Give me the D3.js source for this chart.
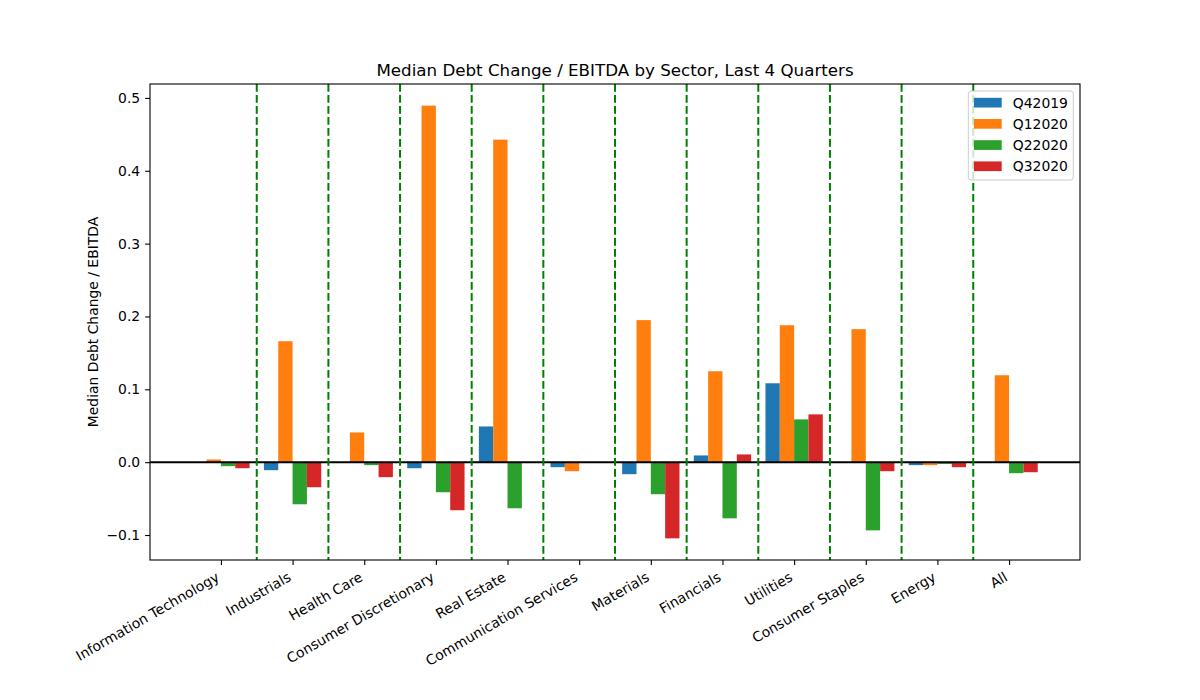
<!DOCTYPE html>
<html>
<head>
<meta charset="utf-8">
<script src="https://cdn.jsdelivr.net/npm/d3@7"></script>
<style>
  body { margin: 0; background: #fff; }
  text { font-family: "DejaVu Sans", sans-serif; fill: #000; }
</style>
</head>
<body>
<script>
// sectors and the four quarters
let sectors = ["Information Technology", "Industrials", "Health Care", "Consumer Discretionary",
  "Real Estate", "Communication Services", "Materials", "Financials", "Utilities",
  "Consumer Staples", "Energy", "All"];
let quarters = ["Q42019", "Q12020", "Q22020", "Q32020"];
let q42019 = [0, -0.011, 0, -0.0083, 0.049, -0.0069, -0.0165, 0.0092, 0.1083, 0, -0.0041, 0];
let q12020 = [0.0037, 0.166, 0.0408, 0.4894, 0.4427, -0.0124, 0.195, 0.1248, 0.188, 0.1826, -0.0041, 0.1193];
let q22020 = [-0.0055, -0.0578, -0.0041, -0.0413, -0.0633, 0, -0.044, -0.0771, 0.0587, -0.0936, -0.0023, -0.0151];
let q32020 = [-0.0083, -0.0344, -0.0206, -0.066, 0, 0, -0.1046, 0.0106, 0.0656, -0.0124, -0.0069, -0.0138];
let yTicks = [-0.1, 0.0, 0.1, 0.2, 0.3, 0.4, 0.5];

let series = [q42019, q12020, q22020, q32020];
let colors = ["#1f77b4", "#ff7f0e", "#2ca02c", "#d62728"];

let svgWidth = 1200, svgHeight = 700;
let margin = { top: 84, right: 120, bottom: 140, left: 150 };
let chartWidth = svgWidth - margin.left - margin.right;
let chartHeight = svgHeight - margin.top - margin.bottom;

let svg = d3.select("body").append("svg")
  .attr("width", svgWidth)
  .attr("height", svgHeight);

let chartGroup = svg.append("g")
  .attr("transform", `translate(${margin.left}, ${margin.top})`);

// bar width 0.2, groups centred on integer positions
let barW = 0.2;
let xMin = -0.4, xMax = sectors.length - 1 + 0.4;
let xPad = (xMax - xMin) * 0.05;
let xScale = d3.scaleLinear()
  .domain([xMin - xPad, xMax + xPad])
  .range([0, chartWidth]);

let allVals = series.flat();
let yLo = Math.min(0, d3.min(allVals)), yHi = d3.max(allVals);
let yPad = (yHi - yLo) * 0.05;
let yScale = d3.scaleLinear()
  .domain([yLo - yPad, yHi + yPad])
  .range([chartHeight, 0]);

// bars
series.forEach((vals, k) => {
  chartGroup.append("g").selectAll("rect")
    .data(vals)
    .enter()
    .append("rect")
    .attr("x", (d, i) => xScale(i + (k - 2) * barW))
    .attr("width", xScale(barW) - xScale(0))
    .attr("y", d => yScale(Math.max(0, d)))
    .attr("height", d => Math.abs(yScale(d) - yScale(0)))
    .attr("fill", colors[k]);
});

// zero line
chartGroup.append("line")
  .attr("x1", 0).attr("x2", chartWidth)
  .attr("y1", yScale(0)).attr("y2", yScale(0))
  .attr("stroke", "#000")
  .attr("stroke-width", 2);

// dashed separators between sectors
chartGroup.append("g").selectAll("line")
  .data(d3.range(sectors.length - 1))
  .enter()
  .append("line")
  .attr("x1", d => xScale(d + 0.5)).attr("x2", d => xScale(d + 0.5))
  .attr("y1", 0).attr("y2", chartHeight)
  .attr("stroke", "#008000")
  .attr("stroke-width", 2)
  .attr("stroke-dasharray", "7.7,3.3");

// axes
let leftAxis = d3.axisLeft(yScale)
  .tickValues(yTicks)
  .tickFormat(d3.format(".1f"))
  .tickSize(4.9)
  .tickPadding(4.9);
let yAxis = chartGroup.append("g").call(leftAxis);
yAxis.select(".domain").remove();
yAxis.selectAll("line").attr("stroke", "#000").attr("stroke-width", 1.1);
yAxis.selectAll("text")
  .style("font-size", "13.9px")
  .style("font-family", "DejaVu Sans");

let bottomAxis = d3.axisBottom(xScale)
  .tickValues(d3.range(sectors.length))
  .tickFormat(i => sectors[i])
  .tickSize(4.9);
let xAxis = chartGroup.append("g")
  .attr("transform", `translate(0, ${chartHeight})`)
  .call(bottomAxis);
xAxis.select(".domain").remove();
xAxis.selectAll("line").attr("stroke", "#000").attr("stroke-width", 1.1);
xAxis.selectAll("text")
  .attr("y", null).attr("dy", null)
  .attr("text-anchor", "end")
  .attr("transform", "translate(-1, 20) rotate(-30)")
  .style("font-size", "13.9px")
  .style("font-family", "DejaVu Sans");

// frame
chartGroup.append("rect")
  .attr("width", chartWidth).attr("height", chartHeight)
  .attr("fill", "none")
  .attr("stroke", "#000")
  .attr("stroke-width", 1.1);

// title and y label
svg.append("text")
  .attr("x", margin.left + chartWidth / 2)
  .attr("y", 76)
  .attr("text-anchor", "middle")
  .style("font-size", "16.7px")
  .text("Median Debt Change / EBITDA by Sector, Last 4 Quarters");

svg.append("text")
  .attr("transform", `translate(98, ${margin.top + chartHeight / 2}) rotate(-90)`)
  .attr("text-anchor", "middle")
  .style("font-size", "13.9px")
  .text("Median Debt Change / EBITDA");

// legend, upper right
let legend = chartGroup.append("g")
  .attr("transform", `translate(${chartWidth - 111.7}, 7)`);
legend.append("rect")
  .attr("width", 105).attr("height", 89)
  .attr("rx", 2.8)
  .attr("fill", "#fff").attr("fill-opacity", 0.8)
  .attr("stroke", "#cccccc").attr("stroke-width", 1);
quarters.forEach((q, k) => {
  let row = legend.append("g")
    .attr("transform", `translate(0, ${11.7 + k * 21.2})`);
  row.append("rect")
    .attr("x", 5.6).attr("y", -4.9)
    .attr("width", 27.8).attr("height", 9.7)
    .attr("fill", colors[k]);
  row.append("text")
    .attr("x", 44.5).attr("y", 5)
    .style("font-size", "13.9px")
    .text(q);
});
</script>
</body>
</html>
